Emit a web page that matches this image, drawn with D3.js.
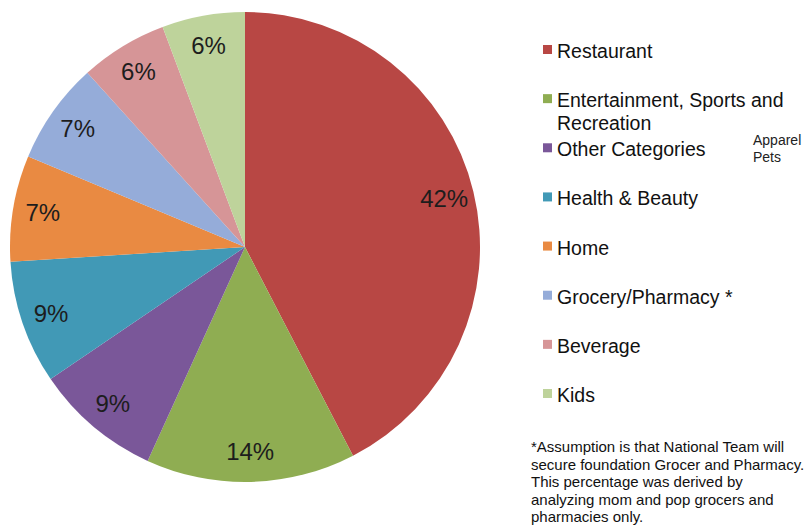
<!DOCTYPE html>
<html>
<head>
<meta charset="utf-8">
<script src="https://cdn.jsdelivr.net/npm/d3@7"></script>
<style>
  body { margin: 0; background: #fff; }
  svg { display: block; font-family: "Liberation Sans", Arial, sans-serif; }
</style>
</head>
<body>
<svg id="chart" width="811" height="527"></svg>
<script>
// slices, clockwise from 12 o'clock (shares, labels rounded)
const categories = ['Restaurant', 'Entertainment, Sports and Recreation', 'Other Categories',
  'Health & Beauty', 'Home', 'Grocery/Pharmacy *', 'Beverage', 'Kids']
const shares = [42.4, 14.4, 8.7, 8.5, 7.3, 7.0, 6.0, 5.7]
const colors = ['#b84744', '#8fad52', '#7a5799', '#4199b6', '#e98a42', '#95acd9', '#d69597', '#bed39b']
// legend lines (Entertainment wraps to two lines)
const legendLines = [['Restaurant'], ['Entertainment, Sports and', 'Recreation'], ['Other Categories'],
  ['Health & Beauty'], ['Home'], ['Grocery/Pharmacy *'], ['Beverage'], ['Kids']]
const sideNote = ['Apparel', 'Pets']
const footnote = ['*Assumption is that National Team will',
  'secure foundation Grocer and Pharmacy.',
  'This percentage  was derived by',
  'analyzing mom and pop grocers and',
  'pharmacies only.']

const svg = d3.select('#chart')
const cx = 245, cy = 247, r = 235

const pie = d3.pie().sort(null).value(d => d)
const arc = d3.arc().innerRadius(0).outerRadius(r)
const labelArc = d3.arc().innerRadius(205).outerRadius(205)
const color = d3.scaleOrdinal().domain(categories).range(colors)

let g = svg.append('g').attr('transform', `translate(${cx},${cy})`)
let slices = pie(shares)

g.selectAll('path')
  .data(slices)
  .enter()
  .append('path')
  .attr('d', arc)
  .attr('fill', (d, i) => color(categories[i]))

g.selectAll('text')
  .data(slices)
  .enter()
  .append('text')
  .attr('transform', d => `translate(${labelArc.centroid(d)})`)
  .attr('text-anchor', 'middle')
  .attr('dy', '0.35em')
  .attr('font-size', 24)
  .attr('fill', '#1d1d1d')
  .text(d => Math.round(d.data) + '%')

// legend
const rowY = d3.scaleLinear().domain([0, 7]).range([58, 402])
let legend = svg.append('g')
let items = legend.selectAll('g')
  .data(categories)
  .enter()
  .append('g')
  .attr('transform', (d, i) => `translate(543,${rowY(i)})`)

items.append('rect')
  .attr('x', 0).attr('y', -13)
  .attr('width', 9).attr('height', 9)
  .attr('fill', d => color(d))

items.append('text')
  .attr('x', 14)
  .attr('font-size', 19.5)
  .attr('fill', '#111')
  .selectAll('tspan')
  .data((d, i) => legendLines[i])
  .enter()
  .append('tspan')
  .attr('x', 14)
  .attr('dy', (d, j) => j === 0 ? 0 : 23)
  .text(d => d)

svg.append('text')
  .attr('font-size', 14)
  .attr('fill', '#222')
  .selectAll('tspan')
  .data(sideNote)
  .enter()
  .append('tspan')
  .attr('x', 753)
  .attr('y', (d, i) => 145 + i * 17)
  .text(d => d)

// footnote
svg.append('g')
  .selectAll('text')
  .data(footnote)
  .enter()
  .append('text')
  .attr('font-size', 15)
  .attr('fill', '#111')
  .attr('x', 531)
  .attr('y', (d, i) => 452 + i * 17.6)
  .text(d => d)
</script>
</body>
</html>
